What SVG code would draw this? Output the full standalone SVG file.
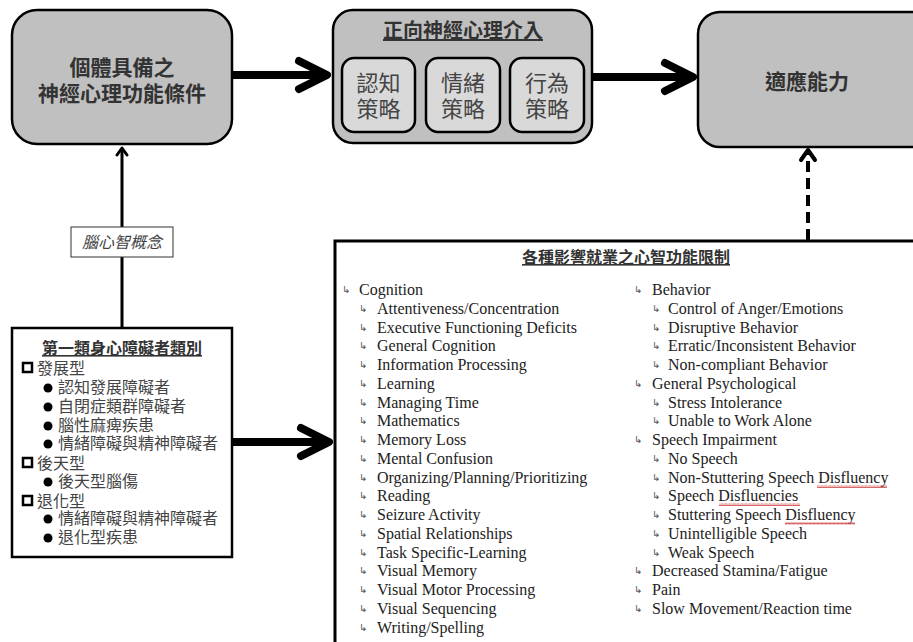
<svg xmlns="http://www.w3.org/2000/svg" width="913" height="642" viewBox="0 0 913 642">
<style>
.node{fill:#c0c0c0;stroke:#000;stroke-width:2.5}
.inner{fill:#d9d9d9;stroke:#000;stroke-width:2.5}
.box{fill:#fff;stroke:#000;stroke-width:2.5}
.ttl{font-family:"Liberation Sans","Noto Sans CJK TC",sans-serif;font-weight:700;fill:#333;text-anchor:middle}
.cjk{font-family:"Liberation Sans","Noto Sans CJK TC",sans-serif;fill:#444}
.strat{font-family:"Liberation Sans","Noto Sans CJK TC",sans-serif;fill:#444;font-size:22px;text-anchor:middle}
.en{font-family:"Liberation Serif","Times New Roman",serif;font-size:16px;fill:#222}
.ar{font-family:"DejaVu Sans",sans-serif;font-size:10px;fill:#555}
.thick{stroke:#000;stroke-width:8;fill:none}
.thin{stroke:#000;stroke-width:3;fill:none}
.dash{stroke:#000;stroke-width:4;fill:none;stroke-dasharray:11 6}
.sq{fill:#fff;stroke:#000;stroke-width:2.5}
.wavy{fill:url(#wave)}
</style>
<defs>
<marker id="bigHead" markerUnits="userSpaceOnUse" viewBox="-36 -20 40 40" refX="0" refY="0" markerWidth="40" markerHeight="40" orient="auto" overflow="visible">
<path d="M-28,-14 L0,0 L-28,14" fill="none" stroke="#000" stroke-width="8" stroke-linecap="round" stroke-linejoin="round"/>
</marker>
<marker id="thinHead" markerUnits="userSpaceOnUse" viewBox="-12 -8 14 16" refX="0" refY="0" markerWidth="14" markerHeight="16" orient="auto" overflow="visible">
<path d="M-7,-5 L0,0 L-7,5" fill="none" stroke="#000" stroke-width="3" stroke-linecap="round" stroke-linejoin="round"/>
</marker>
<marker id="dashHead" markerUnits="userSpaceOnUse" viewBox="-14 -10 16 20" refX="0" refY="0" markerWidth="16" markerHeight="20" orient="auto" overflow="visible">
<path d="M-10,-7 L0,0 L-10,7" fill="none" stroke="#000" stroke-width="4" stroke-linecap="round" stroke-linejoin="round"/>
</marker>
<pattern id="wave" patternUnits="userSpaceOnUse" width="4" height="3">
<path d="M0,2.5 L1,0.5 L2,2.5 L3,0.5 L4,2.5" fill="none" stroke="#d04040" stroke-width="0.8"/>
</pattern>
</defs>

<g id="connectors">
<line class="thick" x1="232" y1="75" x2="327" y2="75" marker-end="url(#bigHead)"/>
<line class="thick" x1="592" y1="77" x2="693" y2="77" marker-end="url(#bigHead)"/>
<line class="thick" x1="232" y1="442" x2="329" y2="442" marker-end="url(#bigHead)"/>
<line class="thin" x1="122" y1="328" x2="122" y2="148" marker-end="url(#thinHead)"/>
<line class="dash" x1="808" y1="240" x2="808" y2="150" marker-end="url(#dashHead)"/>
</g>

<g id="node-conditions">
<rect class="node" x="12" y="10" width="220" height="134" rx="25"/>
<text class="ttl" x="122" y="75" font-size="21">個體具備之</text>
<text class="ttl" x="122" y="101" font-size="21">神經心理功能條件</text>
</g>

<g id="node-intervention">
<rect class="node" x="333" y="10" width="259" height="133" rx="20"/>
<text class="ttl" x="463" y="38" font-size="20" text-decoration="underline">正向神經心理介入</text>
<g id="node-cognitive">
<rect class="inner" x="342" y="58" width="73" height="74" rx="12"/>
<text class="strat" x="378.5" y="91">認知</text>
<text class="strat" x="378.5" y="117">策略</text>
</g>
<g id="node-emotion">
<rect class="inner" x="426" y="58" width="74" height="74" rx="12"/>
<text class="strat" x="463" y="91">情緒</text>
<text class="strat" x="463" y="117">策略</text>
</g>
<g id="node-behavior">
<rect class="inner" x="510" y="58" width="74" height="74" rx="12"/>
<text class="strat" x="547" y="91">行為</text>
<text class="strat" x="547" y="117">策略</text>
</g>
</g>

<g id="node-adaptive">
<rect class="node" x="698" y="12" width="240" height="135" rx="22"/>
<text class="ttl" x="807" y="89" font-size="21">適應能力</text>
</g>

<g id="label-brain">
<rect x="71" y="227" width="102" height="30" fill="#fff" stroke="#333" stroke-width="1"/>
<text class="cjk" x="122" y="248" font-size="16" font-style="italic" text-anchor="middle" fill="#555">腦心智概念</text>
</g>

<g id="node-categories">
<rect class="box" x="12" y="328" width="220" height="229"/>
<text class="ttl" x="122" y="354" font-size="16" fill="#222" text-decoration="underline">第一類身心障礙者類別</text>
<g class="cjk" font-size="16">
<rect class="sq" x="23" y="363" width="9" height="9"/><text x="37" y="374">發展型</text>
<circle cx="48" cy="388" r="4.5" fill="#000"/><text x="58" y="393">認知發展障礙者</text>
<circle cx="48" cy="407" r="4.5" fill="#000"/><text x="58" y="412">自閉症類群障礙者</text>
<circle cx="48" cy="426" r="4.5" fill="#000"/><text x="58" y="431">腦性麻痺疾患</text>
<circle cx="48" cy="444" r="4.5" fill="#000"/><text x="58" y="449">情緒障礙與精神障礙者</text>
<rect class="sq" x="23" y="458" width="9" height="9"/><text x="37" y="469">後天型</text>
<circle cx="48" cy="482" r="4.5" fill="#000"/><text x="58" y="487">後天型腦傷</text>
<rect class="sq" x="23" y="496" width="9" height="9"/><text x="37" y="507">退化型</text>
<circle cx="48" cy="519" r="4.5" fill="#000"/><text x="58" y="524">情緒障礙與精神障礙者</text>
<circle cx="48" cy="538" r="4.5" fill="#000"/><text x="58" y="543">退化型疾患</text>
</g>
</g>

<g id="node-limitations">
<rect x="335" y="241" width="620" height="430" fill="#fff" stroke="#000" stroke-width="3"/>
<text class="ttl" x="626" y="263" font-size="16" fill="#222" text-decoration="underline">各種影響就業之心智功能限制</text>
<g class="ar">
<text x="342" y="293">↳</text>
<text x="359" y="312">↳</text><text x="359" y="331">↳</text><text x="359" y="349">↳</text><text x="359" y="368">↳</text><text x="359" y="387">↳</text><text x="359" y="406">↳</text><text x="359" y="424">↳</text><text x="359" y="443">↳</text><text x="359" y="462">↳</text><text x="359" y="481">↳</text><text x="359" y="499">↳</text><text x="359" y="518">↳</text><text x="359" y="537">↳</text><text x="359" y="556">↳</text><text x="359" y="574">↳</text><text x="359" y="593">↳</text><text x="359" y="612">↳</text><text x="359" y="631">↳</text>
<text x="634" y="293">↳</text>
<text x="652" y="312">↳</text><text x="652" y="331">↳</text><text x="652" y="349">↳</text><text x="652" y="368">↳</text>
<text x="634" y="387">↳</text>
<text x="652" y="406">↳</text><text x="652" y="424">↳</text>
<text x="634" y="443">↳</text>
<text x="652" y="462">↳</text><text x="652" y="481">↳</text><text x="652" y="499">↳</text><text x="652" y="518">↳</text><text x="652" y="537">↳</text><text x="652" y="556">↳</text>
<text x="634" y="574">↳</text><text x="634" y="593">↳</text><text x="634" y="612">↳</text>
</g>
<g class="en">
<text x="359" y="295">Cognition</text>
<text x="377" y="314">Attentiveness/Concentration</text>
<text x="377" y="333">Executive Functioning Deficits</text>
<text x="377" y="351">General Cognition</text>
<text x="377" y="370">Information Processing</text>
<text x="377" y="389">Learning</text>
<text x="377" y="408">Managing Time</text>
<text x="377" y="426">Mathematics</text>
<text x="377" y="445">Memory Loss</text>
<text x="377" y="464">Mental Confusion</text>
<text x="377" y="483">Organizing/Planning/Prioritizing</text>
<text x="377" y="501">Reading</text>
<text x="377" y="520">Seizure Activity</text>
<text x="377" y="539">Spatial Relationships</text>
<text x="377" y="558">Task Specific-Learning</text>
<text x="377" y="576">Visual Memory</text>
<text x="377" y="595">Visual Motor Processing</text>
<text x="377" y="614">Visual Sequencing</text>
<text x="377" y="633">Writing/Spelling</text>
<text x="652" y="295">Behavior</text>
<text x="668" y="314">Control of Anger/Emotions</text>
<text x="668" y="333">Disruptive Behavior</text>
<text x="668" y="351">Erratic/Inconsistent Behavior</text>
<text x="668" y="370">Non-compliant Behavior</text>
<text x="652" y="389">General Psychological</text>
<text x="668" y="408">Stress Intolerance</text>
<text x="668" y="426">Unable to Work Alone</text>
<text x="652" y="445">Speech Impairment</text>
<text x="668" y="464">No Speech</text>
<text x="668" y="483">Non-Stuttering Speech Disfluency</text>
<text x="668" y="501">Speech Disfluencies</text>
<text x="668" y="520">Stuttering Speech Disfluency</text>
<text x="668" y="539">Unintelligible Speech</text>
<text x="668" y="558">Weak Speech</text>
<text x="652" y="576">Decreased Stamina/Fatigue</text>
<text x="652" y="595">Pain</text>
<text x="652" y="614">Slow Movement/Reaction time</text>
</g>
<rect class="wavy" x="817" y="485" width="70" height="3"/>
<rect class="wavy" x="719" y="503" width="81" height="3"/>
<rect class="wavy" x="785" y="522" width="70" height="3"/>
</g>
</svg>
